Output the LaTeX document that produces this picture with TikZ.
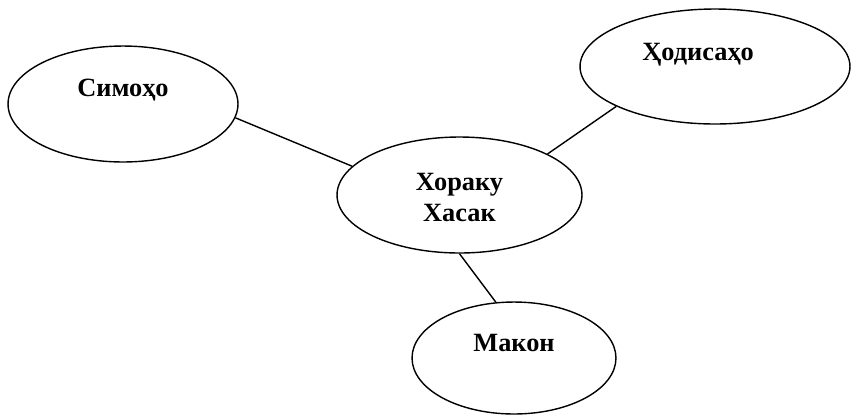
\documentclass[tikz,border=0pt]{standalone}
\usepackage{fontspec}
\setmainfont{Liberation Serif}
\usetikzlibrary{shapes.geometric}
\tikzset{bubble/.style={ellipse,draw,line width=0.8pt,inner sep=0pt}}
\tikzstyle{bubbletext}=[font=\fontsize{15}{18}\selectfont\bfseries,align=center]
\tikzstyle{link}=[line width=0.8pt]

\begin{document}
\begin{tikzpicture}[x=0.02cm,y=-0.02cm]
	\useasboundingbox (0,0) rectangle (852,414);
	
	% ELLIPSES
	\node[bubble,minimum width=4.6cm,minimum height=2.32cm,
	label={[bubbletext,yshift=8pt]center:Симоҳо}] (simoho) at (123,104) {};
	\node[bubble,minimum width=4.9cm,minimum height=2.32cm,
	label={[bubbletext,yshift=-1.4pt]center:{Хораку\\Хасак}}] (xoraku) at (459.5,195) {};
	\node[bubble,minimum width=5.4cm,minimum height=2.3cm,
	label={[bubbletext,xshift=-9.6pt,yshift=6.5pt]center:Ҳодисаҳо}] (hodisaho) at (715,66.5) {};
	\node[bubble,minimum width=4.08cm,minimum height=2.24cm,
	label={[bubbletext,yshift=8.5pt]center:Макон}] (makon) at (514,358) {};
	
	% LINES
	\draw[link] (simoho.-7.6) -- (xoraku.165.2);
	\draw[link] (xoraku.25.4) -- (hodisaho.-158.8);
	\draw[link] (xoraku.-90.5) -- (makon.108.7);
	
\end{tikzpicture}
\end{document}
